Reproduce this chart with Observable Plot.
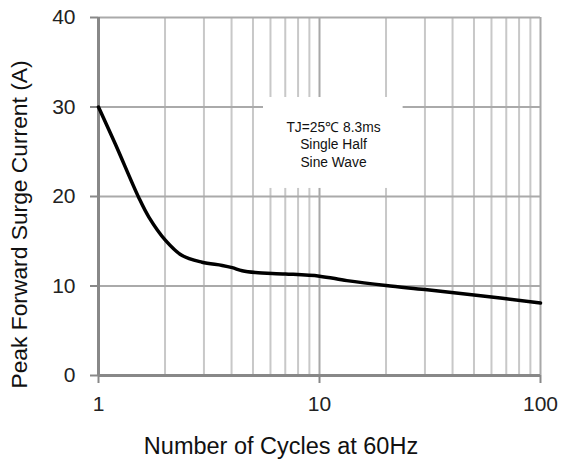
<!DOCTYPE html>
<html>
<head>
<meta charset="utf-8">
<script src="https://cdn.jsdelivr.net/npm/d3@7"></script>
<script src="https://cdn.jsdelivr.net/npm/@observablehq/plot@0.6"></script>
<style>
  html, body { margin: 0; padding: 0; background: #fff; }
  #chart { width: 562px; height: 461px; }
</style>
</head>
<body>
<div id="chart"></div>
<script>
// Curve data
const cycles = [1, 1.19, 1.52, 1.69, 2.01, 2.39, 2.94, 3.63, 4.03, 4.47, 5.13, 7, 10, 13.3, 20, 30, 50, 100];
const current = [30, 25.9, 19.9, 17.7, 15.1, 13.4, 12.66, 12.3, 12.05, 11.7, 11.5, 11.35, 11.1, 10.6, 10.05, 9.6, 9.0, 8.1];

// Axis ticks
const xTicks = [1, 10, 100];
const yTicks = [0, 10, 20, 30, 40];
const xMinor = [2, 3, 4, 5, 6, 7, 8, 9, 20, 30, 40, 50, 60, 70, 80, 90];

// Annotation
const noteLines = ["TJ=25\u2103 8.3ms", "Single Half", "Sine Wave"];
const noteX = [11.57];
const noteY = [25.9];
const noteBoxX = [5.58, 23.9];
const noteBoxY = [20.9, 31.06];

const xTitle = "Number of Cycles at 60Hz";
const yTitle = "Peak Forward Surge Current (A)";

const data = cycles.map((c, i) => ({x: c, y: current[i]}));
const font = "'Liberation Sans', Arial, sans-serif";

const chart = Plot.plot({
  width: 562,
  height: 461,
  marginLeft: 98,
  marginRight: 22,
  marginTop: 17,
  marginBottom: 86,
  style: {fontFamily: font, background: "#fff", color: "#222"},
  x: {type: "log", domain: [1, 100]},
  y: {domain: [0, 40]},
  marks: [
    Plot.ruleX(xMinor, {stroke: "#c8c8c8", strokeWidth: 2}),
    Plot.ruleX([10, 100], {stroke: "#a8a8a8", strokeWidth: 2}),
    Plot.ruleY(yTicks.filter(d => d > 0), {stroke: "#aaa", strokeWidth: 2}),
    Plot.rect([0], {x1: () => noteBoxX[0], x2: () => noteBoxX[1], y1: () => noteBoxY[0], y2: () => noteBoxY[1], fill: "#fff"}),
    Plot.text([noteLines.join("\n")], {x: () => noteX[0], y: () => noteY[0], text: d => d, fontSize: 13.8, lineHeight: 1.26, fill: "#111", fontFamily: font}),
    Plot.axisY({ticks: yTicks, tickSize: 8, tickPadding: 15, fontSize: 21, stroke: "#888", strokeWidth: 2, label: null, fill: "#222"}),
    Plot.axisX({ticks: xTicks, tickFormat: d => String(d), tickSize: 8, tickPadding: 13, fontSize: 21, stroke: "#888", strokeWidth: 2, label: null, fill: "#222"}),
    Plot.ruleX([1], {stroke: "#888", strokeWidth: 3}),
    Plot.ruleY([0], {stroke: "#888", strokeWidth: 3}),
    Plot.line(data, {x: "x", y: "y", curve: "catmull-rom", stroke: "#000", strokeWidth: 3.5}),
    Plot.text([xTitle], {frameAnchor: "bottom", text: d => d, dx: -38.5, dy: 71, fontSize: 23.5, fill: "#111", lineAnchor: "middle", textAnchor: "middle"}),
    Plot.text([yTitle], {frameAnchor: "left", text: d => d, rotate: -90, dx: -79, dy: 28, fontSize: 22.8, fill: "#111", lineAnchor: "middle", textAnchor: "middle"})
  ]
});
document.getElementById("chart").appendChild(chart);
</script>
</body>
</html>
